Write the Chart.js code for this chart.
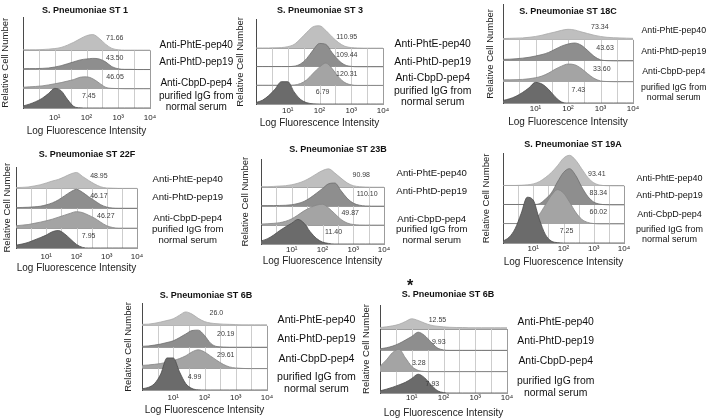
<!DOCTYPE html>
<html><head><meta charset="utf-8">
<script src="https://cdn.jsdelivr.net/npm/chart.js@4.4.1/dist/chart.umd.min.js"></script>
<style>
html,body{margin:0;padding:0;background:#fff;}
#stage{position:relative;width:711px;height:419px;overflow:hidden;background:#fff;}
#stage canvas{position:absolute;}
</style></head>
<body><div id="stage"></div>
<script>
// ---------- data ----------
// histogram bins on log10 fluorescence axis (10^0 .. 10^4)
const bins = [0,0.2,0.4,0.6,0.8,1.0,1.2,1.4,1.6,1.8,2.0,2.2,2.4,2.6,2.8,3.0,3.2,3.4,3.6,3.8,4.0];
const xTicks = [0,0.5,1,1.5,2,2.5,3,3.5,4];
const xTickLabels = ['','','10\u00B9','','10\u00B2','','10\u00B3','','10\u2074'];
const laneLabels = ['Anti-PhtE-pep40','Anti-PhtD-pep19','Anti-CbpD-pep4',['purified IgG from','normal serum']];
const panelTitles = ['S. Pneumoniae ST 1','S. Pneumoniae ST 3','S. Pneumoniae ST 18C','S. Pneumoniae ST 22F',
  'S. Pneumoniae ST 23B','S. Pneumoniae ST 19A','S. Pneumoniae ST 6B','S. Pneumoniae ST 6B'];

// relative cell number (lane heights) per histogram
const st1_PhtE = [0.03,0.03,0.03,0.04,0.06,0.09,0.15,0.27,0.42,0.6,0.76,0.82,0.62,0.32,0.1,0.03,0.01,0.01,0.01,0.01,0.01];
const st1_PhtD = [0.04,0.05,0.05,0.06,0.08,0.13,0.2,0.3,0.4,0.5,0.55,0.58,0.55,0.4,0.15,0.04,0.01,0.01,0,0,0];
const st1_CbpD = [0.08,0.1,0.12,0.15,0.2,0.26,0.32,0.4,0.48,0.6,0.62,0.52,0.3,0.08,0.02,0.01,0,0,0,0,0];
const st1_IgG  = [0.1,0.2,0.33,0.5,0.75,1.02,0.9,0.45,0.08,0.01,0,0,0,0,0,0,0,0,0,0,0];
const st1_MFI  = ['71.66','43.50','46.05','7.45'];

const st3_PhtE = [0.01,0.01,0.01,0.02,0.03,0.08,0.2,0.5,0.85,1.15,1.2,0.95,0.6,0.3,0.1,0.03,0.01,0,0,0,0];
const st3_PhtD = [0.01,0.01,0.01,0.01,0.01,0.01,0.03,0.15,0.45,0.9,1.25,1.2,0.75,0.35,0.1,0.02,0,0,0,0,0];
const st3_CbpD = [0.01,0.01,0.01,0.01,0.01,0.01,0.02,0.1,0.3,0.65,0.98,1.2,0.9,0.45,0.15,0.03,0,0,0,0,0];
const st3_IgG  = [0.08,0.2,0.45,0.8,1.2,1.2,0.65,0.25,0.07,0.01,0,0,0,0,0,0,0,0,0,0,0];
const st3_MFI  = ['110.95','109.44','120.31','6.79'];

const st18C_PhtE = [0.06,0.07,0.08,0.09,0.12,0.16,0.22,0.3,0.37,0.45,0.5,0.47,0.38,0.3,0.22,0.16,0.12,0.1,0.09,0.08,0.07];
const st18C_PhtD = [0.07,0.08,0.1,0.13,0.17,0.23,0.3,0.4,0.55,0.7,0.8,0.85,0.75,0.5,0.22,0.05,0.01,0,0,0,0];
const st18C_CbpD = [0.1,0.1,0.11,0.12,0.15,0.2,0.28,0.42,0.6,0.75,0.85,0.82,0.65,0.4,0.17,0.05,0.02,0.01,0.01,0.01,0.01];
const st18C_IgG  = [0.12,0.2,0.32,0.5,0.72,0.98,0.9,0.65,0.3,0.05,0,0,0,0,0,0,0,0,0,0,0];
const st18C_MFI  = ['73.34','43.63','33.60','7.43'];

const st22F_PhtE = [0.04,0.05,0.07,0.12,0.18,0.27,0.37,0.45,0.58,0.72,0.8,0.6,0.4,0.22,0.08,0.02,0.01,0,0,0,0];
const st22F_PhtD = [0.03,0.04,0.05,0.07,0.1,0.17,0.27,0.42,0.62,0.82,0.95,0.8,0.58,0.38,0.18,0.06,0.01,0,0,0,0];
const st22F_CbpD = [0.12,0.15,0.18,0.24,0.3,0.37,0.45,0.55,0.65,0.75,0.83,0.78,0.65,0.5,0.3,0.12,0.03,0,0,0,0];
const st22F_IgG  = [0.14,0.2,0.28,0.4,0.52,0.65,0.82,0.88,0.72,0.45,0.18,0.03,0,0,0,0,0,0,0,0,0];
const st22F_MFI  = ['48.95','46.17','46.27','7.95'];

const st23B_PhtE = [0.03,0.03,0.04,0.06,0.08,0.13,0.21,0.33,0.5,0.7,0.88,0.97,0.75,0.48,0.23,0.08,0.03,0.01,0,0,0];
const st23B_PhtD = [0.03,0.03,0.03,0.035,0.045,0.075,0.14,0.25,0.44,0.68,0.93,1.18,1.22,0.82,0.42,0.16,0.05,0.01,0,0,0];
const st23B_CbpD = [0.055,0.07,0.09,0.125,0.2,0.33,0.53,0.75,0.92,1.05,1.1,0.9,0.6,0.3,0.11,0.03,0.005,0,0,0,0];
const st23B_IgG  = [0.16,0.27,0.46,0.7,0.91,1.1,1.3,1.1,0.65,0.3,0.1,0.03,0,0,0,0,0,0,0,0,0];
const st23B_MFI  = ['90.98','110.10','49.87','11.40'];

const st19A_PhtE = [0.02,0.02,0.02,0.03,0.05,0.1,0.22,0.43,0.7,1.05,1.45,1.6,1.35,0.9,0.45,0.16,0.04,0.01,0,0,0];
const st19A_PhtD = [0.02,0.02,0.02,0.02,0.02,0.02,0.06,0.3,0.63,1.2,1.7,1.9,1.55,0.95,0.45,0.15,0.04,0.01,0,0,0];
const st19A_CbpD = [0.02,0.02,0.02,0.02,0.05,0.2,0.5,1.0,1.5,1.8,1.62,1.15,0.62,0.25,0.08,0.02,0,0,0,0,0];
const st19A_IgG  = [0.1,0.3,0.75,1.55,2.4,2.25,1.25,0.45,0.1,0.02,0,0,0,0,0,0,0,0,0,0,0];
const st19A_MFI  = ['93.41','83.34','60.02','7.25'];

const st6B_PhtE = [0.07,0.08,0.12,0.18,0.25,0.33,0.5,0.65,0.55,0.35,0.2,0.13,0.1,0.08,0.07,0.06,0.05,0.05,0.05,0.05,0.05];
const st6B_PhtD = [0.04,0.06,0.1,0.15,0.22,0.3,0.45,0.62,0.78,0.8,0.55,0.18,0.03,0.01,0,0,0,0,0,0,0];
const st6B_CbpD = [0.15,0.17,0.2,0.24,0.3,0.37,0.47,0.6,0.78,0.88,0.78,0.58,0.38,0.2,0.08,0.03,0.01,0,0,0,0];
const st6B_IgG  = [0.06,0.12,0.3,0.75,1.5,1.5,0.85,0.3,0.07,0.01,0,0,0,0,0,0,0,0,0,0,0];
const st6B_MFI  = ['26.0','20.19','29.61','4.99'];

const st6Bb_PhtE = [0.07,0.1,0.15,0.22,0.35,0.48,0.4,0.28,0.18,0.13,0.1,0.08,0.07,0.07,0.06,0.06,0.06,0.06,0.06,0.06,0.06];
const st6Bb_PhtD = [0.07,0.12,0.2,0.32,0.48,0.65,0.85,0.7,0.4,0.12,0.02,0,0,0,0,0,0,0,0,0,0];
const st6Bb_CbpD = [0.25,0.55,0.9,1.05,0.65,0.25,0.06,0.01,0,0,0,0,0,0,0,0,0,0,0,0,0];
const st6Bb_IgG  = [0.1,0.18,0.27,0.38,0.5,0.68,0.88,0.72,0.4,0.12,0.02,0,0,0,0,0,0,0,0,0,0];
const st6Bb_MFI  = ['12.55','9.93','3.28','7.93'];

const panelSeries = [
  [st1_PhtE, st1_PhtD, st1_CbpD, st1_IgG],
  [st3_PhtE, st3_PhtD, st3_CbpD, st3_IgG],
  [st18C_PhtE, st18C_PhtD, st18C_CbpD, st18C_IgG],
  [st22F_PhtE, st22F_PhtD, st22F_CbpD, st22F_IgG],
  [st23B_PhtE, st23B_PhtD, st23B_CbpD, st23B_IgG],
  [st19A_PhtE, st19A_PhtD, st19A_CbpD, st19A_IgG],
  [st6B_PhtE, st6B_PhtD, st6B_CbpD, st6B_IgG],
  [st6Bb_PhtE, st6Bb_PhtD, st6Bb_CbpD, st6Bb_IgG]
];
const panelMFI = [st1_MFI, st3_MFI, st18C_MFI, st22F_MFI, st23B_MFI, st19A_MFI, st6B_MFI, st6Bb_MFI];

// ---------- layout (page pixels) ----------
const panelLayout = [
  {l:23,r:150,t:17,b:108,base3:50,yTitleX:6,titleX:85,titleY:11,xTitleY:131,tickPad:5,labPad:9,labFont:10,labY:[3.26,2.38,1.3,0.31],mfiX:[2.89,2.89,2.9,2.07],mfiY:0.62},
  {l:256,r:383,t:18,b:104,base3:47,yTitleX:241,titleX:320,titleY:11,xTitleY:123,tickPad:2,labPad:11,labFont:10.4,labY:[3.21,2.26,1.37,0.39],mfiX:[2.86,2.86,2.86,2.1],mfiY:0.62},
  {l:503,r:633,t:2,b:103,base3:38,yTitleX:491,titleX:568,titleY:12,xTitleY:122,tickPad:1,labPad:8,labFont:8.8,labY:[3.46,2.44,1.47,0.51],mfiX:[2.98,3.14,3.04,2.32],mfiY:0.62},
  {l:16,r:137,t:160,b:248,base3:183,yTitleX:8,titleX:87,titleY:155,xTitleY:268,tickPad:4,labPad:15,labFont:9.6,labY:[3.46,2.53,1.47,0.65],mfiX:[2.74,2.74,2.97,2.4],mfiY:0.62},
  {l:261,r:384,t:153,b:244,base3:183,yTitleX:246,titleX:338,titleY:150,xTitleY:261,tickPad:1,labPad:12,labFont:9.6,labY:[3.74,2.76,1.28,0.47],mfiX:[3.26,3.45,2.9,2.36],mfiY:0.62},
  {l:503,r:624,t:148,b:243,base3:182,yTitleX:487,titleX:573,titleY:145,xTitleY:262,tickPad:1,labPad:12,labFont:9,labY:[3.4,2.51,1.48,0.44],mfiX:[3.1,3.15,3.15,2.1],mfiY:0.62},
  {l:142,r:267,t:300,b:390,base3:323,yTitleX:129,titleX:206,titleY:296,xTitleY:410,tickPad:3,labPad:10,labFont:10.6,labY:[3.27,2.38,1.43,0.31],mfiX:[2.38,2.68,2.68,1.68],mfiY:0.62},
  {l:380,r:507,t:305,b:393,base3:329,yTitleX:367,titleX:448,titleY:295,xTitleY:413,tickPad:0,labPad:10,labFont:10.4,labY:[3.33,2.44,1.5,0.28],mfiX:[1.81,1.85,1.22,1.65],mfiY:0.4,mark:'*',markX:410,markY:284}
];

// styles: PhtE, PhtD, CbpD, IgG
const fillColors = ['#bfbfbf','#8e8e8e','#a4a4a4','#6b6b6b'];
const lineColors = ['#a8a8a8','#6e6e6e','#878787','#4d4d4d'];
const laneLineColor = '#9c9c9c';
const gridColor = '#cdcdcd';
const FONT = '"Liberation Sans", Arial, Helvetica, sans-serif';
Chart.defaults.font.family = FONT;
const RW = 95;

const decor = {
  id: 'decor',
  beforeDatasetsDraw(chart, args, o) {
    const ctx = chart.ctx, xs = chart.scales.x, ys = chart.scales.y;
    ctx.save();
    ctx.lineWidth = 1;
    const y0 = ys.getPixelForValue(0), y3 = ys.getPixelForValue(3);
    xs.ticks.forEach(t => {
      if (t.value === 0) return;
      const px = Math.round(xs.getPixelForValue(t.value)) + 0.5;
      ctx.strokeStyle = t.value === 4 ? laneLineColor : gridColor;
      ctx.beginPath(); ctx.moveTo(px, y0); ctx.lineTo(px, y3); ctx.stroke();
    });
    ctx.restore();
  },
  afterDatasetsDraw(chart, args, o) {
    const ctx = chart.ctx, xs = chart.scales.x, ys = chart.scales.y;
    ctx.save();
    ctx.fillStyle = '#3a3a3a';
    ctx.font = '7px ' + FONT;
    ctx.textAlign = 'center'; ctx.textBaseline = 'middle';
    o.mfi.forEach((s, k) => {
      ctx.fillText(s, xs.getPixelForValue(o.mfiX[k]), ys.getPixelForValue(3 - k + o.mfiY));
    });
    ctx.restore();
  },
  afterDraw(chart, args, o) {
    const ctx = chart.ctx;
    ctx.save();
    ctx.fillStyle = '#111';
    ctx.textAlign = 'center'; ctx.textBaseline = 'middle';
    ctx.font = 'bold 9px ' + FONT;
    ctx.fillText(o.title, o.titleX - o.cl, o.titleY - o.ct);
    if (o.mark) {
      ctx.font = 'bold 16px ' + FONT;
      ctx.fillText(o.mark, o.markX - o.cl, o.markY - o.ct + 3);
    }
    ctx.restore();
  }
};

const stage = document.getElementById('stage');
panelLayout.forEach((P, pi) => {
  const cl = Math.round(P.yTitleX - 5.7);
  const ct = Math.min(P.t - 10, P.titleY - 8, P.mark ? P.markY - 12 : 1e9);
  const cw = P.r + RW - cl;
  const ch = P.xTitleY + 6 - ct;
  const Lw = P.l - cl, Bh = P.xTitleY + 6 - P.b, padTop = P.t - ct;
  const laneH = (P.b - P.base3) / 3;
  const ymax = (P.b - P.t) / laneH;
  const cv = document.createElement('canvas');
  cv.width = cw; cv.height = ch;
  cv.style.left = cl + 'px'; cv.style.top = ct + 'px';
  cv.style.width = cw + 'px'; cv.style.height = ch + 'px';
  stage.appendChild(cv);

  const series = panelSeries[pi];
  const datasets = [3, 2, 1, 0].map(k => ({
    data: bins.map((b, i) => ({x: b, y: (3 - k) + series[k][i]})),
    fill: {value: 3 - k},
    backgroundColor: fillColors[k],
    borderColor: lineColors[k],
    borderWidth: 0.8,
    pointRadius: 0,
    cubicInterpolationMode: 'monotone'
  }));
  const labTicks = [P.labY[3], P.labY[2], P.labY[1], P.labY[0]];

  new Chart(cv, {
    type: 'line',
    data: {datasets},
    options: {
      responsive: false, animation: false, devicePixelRatio: 1, events: [],
      layout: {padding: {top: padTop, left: 0, right: 0, bottom: 0}},
      plugins: {
        legend: {display: false}, tooltip: {enabled: false}, title: {display: false},
        decor: {title: panelTitles[pi], titleX: P.titleX, titleY: P.titleY, cl, ct,
                mfi: panelMFI[pi], mfiX: P.mfiX, mfiY: P.mfiY, mark: P.mark, markX: P.markX, markY: P.markY}
      },
      scales: {
        x: {
          type: 'linear', min: 0, max: 4,
          afterBuildTicks: s => { s.ticks = xTicks.map(v => ({value: v})); },
          afterFit: s => { s.height = Bh; },
          grid: {display: false, drawTicks: false},
          border: {display: true, color: laneLineColor, width: 1},
          ticks: {autoSkip: false, maxRotation: 0, padding: P.tickPad, color: '#222', font: {size: 8},
                  callback: (v, i) => xTickLabels[i]},
          title: {display: true, text: 'Log Fluorescence Intensity', color: '#222', font: {size: 10}, padding: 0}
        },
        y: {
          type: 'linear', position: 'left', min: 0, max: ymax,
          afterBuildTicks: s => { s.ticks = [0, 1, 2, 3].map(v => ({value: v})); },
          afterFit: s => { s.width = Lw; },
          ticks: {display: false},
          grid: {display: true, color: laneLineColor, lineWidth: 1, drawTicks: false},
          border: {display: true, color: '#4a4a4a', width: 1},
          title: {display: true, text: 'Relative Cell Number', color: '#222', font: {size: 9.5}, padding: 0}
        },
        yLab: {
          type: 'linear', axis: 'y', position: 'right', min: 0, max: ymax,
          afterBuildTicks: s => { s.ticks = labTicks.map(v => ({value: v})); },
          afterFit: s => { s.width = RW; },
          grid: {display: false, drawTicks: false},
          border: {display: false},
          ticks: {autoSkip: false, padding: P.labPad, crossAlign: 'center', color: '#111',
                  font: {size: P.labFont, lineHeight: 1.1},
                  callback: (v, i) => laneLabels[3 - i]}
        }
      }
    },
    plugins: [decor]
  });
});
</script>
</body></html>
